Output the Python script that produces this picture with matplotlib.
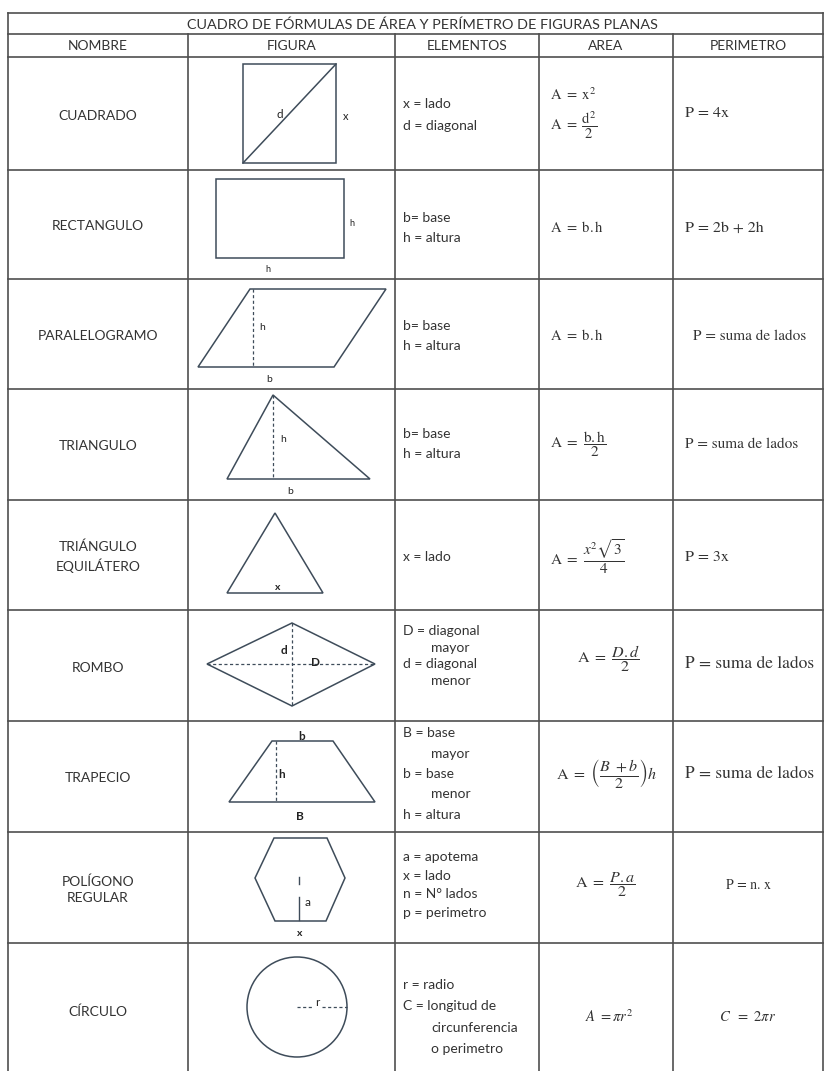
import matplotlib
matplotlib.use("Agg")
import matplotlib.pyplot as plt
from matplotlib.patches import Polygon, Circle

plt.rcParams["mathtext.fontset"] = "stix"

TITLE = "CUADRO DE FÓRMULAS DE ÁREA Y PERÍMETRO DE FIGURAS PLANAS"
HEADERS = ["NOMBRE", "FIGURA", "ELEMENTOS", "AREA", "PERIMETRO"]
NOMBRES = ["CUADRADO", "RECTANGULO", "PARALELOGRAMO", "TRIANGULO",
           "TRIÁNGULO\nEQUILÁTERO", "ROMBO", "TRAPECIO",
           "POLÍGONO\nREGULAR", "CÍRCULO"]
# lines starting with ">" are indented continuation lines
ELEMENTOS = [
    ["x = lado", "d = diagonal"],
    ["b= base", "h = altura"],
    ["b= base", "h = altura"],
    ["b= base", "h = altura"],
    ["x = lado"],
    ["D = diagonal", ">mayor", "d = diagonal", ">menor"],
    ["B = base", ">mayor", "b = base", ">menor", "h = altura"],
    ["a = apotema", "x = lado", "n = N° lados", "p = perimetro"],
    ["r = radio", "C = longitud de", ">circunferencia", ">o perimetro"],
]
AREAS = [
    [r"$\mathrm{A\ =\ x}^{2}$", r"$\mathrm{A\ =\ }\dfrac{\mathrm{d}^{2}}{2}$"],
    [r"$\mathrm{A\ =\ b.h}$"],
    [r"$\mathrm{A\ =\ b.h}$"],
    [r"$\mathrm{A\ =\ }\dfrac{\mathrm{b.h}}{2}$"],
    [r"$\mathrm{A\ =\ }\dfrac{x^{2}\sqrt{3}}{4}$"],
    [r"$\mathrm{A\ =\ }\dfrac{D.d}{2}$"],
    [r"$\mathrm{A\ =\ }\left(\dfrac{B\ +b}{2}\right)h$"],
    [r"$\mathrm{A\ =\ }\dfrac{P.a}{2}$"],
    [r"$A\ =\pi r^{2}$"],
]
PERIMETROS = ["P = 4x", "P = 2b + 2h", "P = suma de lados", "P = suma de lados",
              "P = 3x", "P = suma de lados", "P = suma de lados", "P = n. x",
              r"$C\ \ =\ 2\pi r$"]

# layout in pixels
COLS = [8, 188, 395, 539, 673, 823]
ROWS = [57, 170, 279, 389, 500, 610, 721, 832, 943, 1075]
TOP, HEAD = 13, 34
EL_SPACING = [21, 20, 20, 20, 20, 16.5, 20.5, 18.5, 21.5]
EL_CENTER = [115, 228, 336, 444, 557, 656, 774, 885, 1017]
AREA_X = [550, 550, 550, 550, 550, 577, 556, 575, 585]
AREA_FS = [10.5, 10.5, 10.5, 11, 11, 11.5, 11.5, 11.5, 10.5]
PER_X = [685, 685, 693, 685, 685, 685, 685, 748, 748]
PER_FS = [11.5, 11.5, 11, 11, 11.5, 12.5, 12.5, 10, 10.5]

GRID = "#4f4f4f"
INK = "#333333"
SHAPE = "#3e4c5a"
SANS = "Lato"
FS = 10

fig = plt.figure(figsize=(8.25, 10.71), dpi=100)
ax = fig.add_axes([0, 0, 1, 1])
ax.set_xlim(0, 825)
ax.set_ylim(1071, 0)
ax.axis("off")

# grid
for y in [TOP, HEAD] + ROWS[:-1]:
    ax.plot([COLS[0], COLS[-1]], [y, y], color=GRID, lw=1.2)
for x in (COLS[0], COLS[-1]):
    ax.plot([x, x], [TOP, 1071], color=GRID, lw=1.2)
for x in COLS[1:-1]:
    ax.plot([x, x], [HEAD, 1071], color=GRID, lw=1.2)

ax.text((COLS[0] + COLS[-1]) / 2 + 7, (TOP + HEAD) / 2 + 1, TITLE, ha="center",
        va="center", fontsize=10.4, family=SANS, color=INK)
for i, h in enumerate(HEADERS):
    ax.text((COLS[i] + COLS[i + 1]) / 2, (HEAD + ROWS[0]) / 2 + 1, h, ha="center",
            va="center", fontsize=FS, family=SANS, color=INK)

for r in range(9):
    yc = (ROWS[r] + ROWS[r + 1]) / 2 if r < 8 else 1010
    # nombre
    ax.text((COLS[0] + COLS[1]) / 2, yc + 2, NOMBRES[r], ha="center", va="center",
            fontsize=FS, family=SANS, color=INK, linespacing=1.45)
    # elementos
    lines = ELEMENTOS[r]
    n = len(lines)
    for k, ln in enumerate(lines):
        y = EL_CENTER[r] + (k - (n - 1) / 2) * EL_SPACING[r]
        x = COLS[2] + 8
        if ln.startswith(">"):
            ln = ln[1:]
            x += 28
        ax.text(x, y, ln, ha="left", va="center", fontsize=FS, family=SANS,
                color=INK)
    # area
    forms = AREAS[r]
    if len(forms) == 2:
        ax.text(AREA_X[r], 95, forms[0], ha="left", va="center",
                fontsize=AREA_FS[r], color=INK)
        ax.text(AREA_X[r], 125, forms[1], ha="left", va="center",
                fontsize=AREA_FS[r], color=INK)
    else:
        ax.text(AREA_X[r], EL_CENTER[r] + (3 if r == 5 else 0), forms[0],
                ha="left", va="center", fontsize=AREA_FS[r], color=INK)
    # perimetro
    ha = "center" if r >= 7 else "left"
    ax.text(PER_X[r], EL_CENTER[r] + (8 if r == 5 else 0) - (2 if r == 0 else 0),
            PERIMETROS[r], ha=ha, va="center", fontsize=PER_FS[r], color=INK,
            family="STIXGeneral")


def poly(pts):
    ax.add_patch(Polygon(pts, closed=True, fill=False, ec=SHAPE, lw=1.1))


def dash(x0, y0, x1, y1):
    ax.plot([x0, x1], [y0, y1], ls=(0, (2.5, 2)), color=SHAPE, lw=0.9)


def lab(x, y, s, bold=False, fs=7.5):
    ax.text(x, y, s, ha="center", va="center", fontsize=fs, family=SANS,
            color="#222222", weight="bold" if bold else "normal")


# cuadrado
poly([(243, 64), (336, 64), (336, 163), (243, 163)])
ax.plot([243, 336], [163, 64], color=SHAPE, lw=1.1)
lab(280, 115, "d", fs=8.5)
lab(346, 116, "x", fs=8)
# rectangulo
poly([(216, 179), (344, 179), (344, 258), (216, 258)])
lab(352, 223, "h", fs=6.5)
lab(268, 270, "h", fs=6.5)
# paralelogramo
poly([(198, 367), (334, 367), (386, 289), (250, 289)])
dash(253, 289, 253, 367)
lab(262, 328, "h")
lab(269, 380, "b")
# triangulo
poly([(227, 479), (370, 479), (273, 395)])
dash(273, 395, 273, 479)
lab(283, 439, "h")
lab(290, 492, "b")
# triangulo equilatero
poly([(227, 593), (323, 593), (275, 513)])
lab(278, 588, "x", bold=True)
# rombo
poly([(207, 664), (292, 623), (375, 664), (292, 706)])
dash(207, 664, 375, 664)
dash(292, 623, 292, 706)
lab(284, 650, "d", bold=True, fs=8.5)
lab(316, 662, "D", bold=True, fs=8.5)
# trapecio
poly([(229, 802), (375, 802), (333, 741), (272, 741)])
dash(276, 741, 276, 802)
lab(302, 736, "b", bold=True, fs=8.5)
lab(282, 774, "h", bold=True, fs=8.5)
lab(300, 817, "B", bold=True, fs=8.5)
# poligono regular
poly([(274, 838), (327, 838), (345, 878), (326, 921), (275, 921), (255, 878)])
ax.plot([299, 299], [877, 884], color=SHAPE, lw=1.0)
ax.plot([299, 299], [897, 920], color=SHAPE, lw=1.0)
lab(308, 903, "a", fs=8.5)
lab(300, 933, "x", bold=True)
# circulo
ax.add_patch(Circle((297, 1007), 50, fill=False, ec=SHAPE, lw=1.1))
dash(297, 1007, 312, 1007)
dash(322, 1007, 347, 1007)
lab(317, 1003, "r", fs=8.5)

fig.savefig("out.png", dpi=100, facecolor="white")
